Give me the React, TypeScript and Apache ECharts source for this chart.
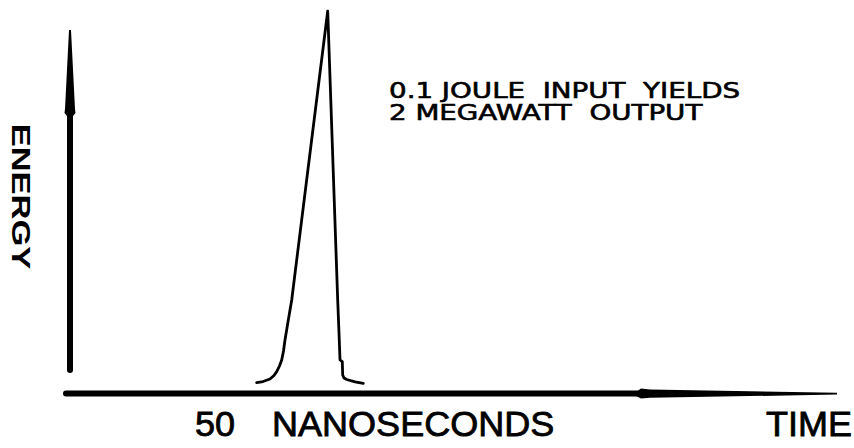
import React, { useEffect, useRef } from "react";
import * as echarts from "echarts";

// Pulse trace: time (ns, arbitrary origin) vs energy (% of peak)
const timeNs = [
  50.05, 51.68, 53.49, 54.52, 55.22, 55.94, 56.51, 56.98, 57.36, 58.22, 59.1,
  68.4,
  70.98, 71.32, 71.58, 72.17, 72.27, 72.61, 73.31, 75.45, 77.6,
];
const energy = [
  2.7, 3.01, 3.66, 4.58, 5.58, 7.07, 8.64, 10.99, 13.87, 19.11, 24.35,
  100,
  24.35, 15.71, 8.64, 8.19, 4.71, 3.93, 3.53, 2.93, 2.54,
];
const xAxisLabel = "TIME";
const scaleLabelValue = "50";
const scaleLabelUnit = "NANOSECONDS";
const yAxisLabel = "ENERGY";
const noteLines = ["0.1 JOULE  INPUT  YIELDS", "2 MEGAWATT  OUTPUT"];

export default function App() {
  const ref = useRef<HTMLDivElement>(null);
  useEffect(() => {
    if (!ref.current) return;
    const chart = echarts.init(ref.current, null, { renderer: "svg" });
    const data = timeNs.map((t, i) => [t, energy[i]]);
    const bottomText = (text: string, x: number, align: string) => ({
      type: "text",
      x,
      y: 424,
      scaleX: 1.03,
      style: {
        text,
        fontFamily: "Liberation Sans",
        fontSize: 35,
        fill: "#000",
        stroke: "#000",
        lineWidth: 0.8,
        textAlign: align,
        textVerticalAlign: "middle",
      },
    });
    chart.setOption({
      animation: false,
      backgroundColor: "#ffffff",
      grid: { left: 63, right: 17, top: 11, bottom: 55 },
      xAxis: { type: "value", min: 0, max: 200, show: false },
      yAxis: { type: "value", min: 0, max: 100, show: false },
      series: [
        {
          type: "line",
          data,
          showSymbol: false,
          smooth: false,
          lineStyle: { color: "#000", width: 2.8, join: "round", cap: "round" },
        },
      ],
      graphic: [
        // vertical axis arrow
        {
          type: "polygon",
          shape: {
            points: [
              [69, 30], [71, 30], [75, 109], [75.5, 113], [73, 116],
              [67, 116], [64.5, 113], [65, 109],
            ],
          },
          style: { fill: "#000" },
        },
        {
          type: "line",
          shape: { x1: 70, y1: 114, x2: 70, y2: 370 },
          style: { stroke: "#000", lineWidth: 6, lineCap: "round" },
        },
        // horizontal axis arrow
        {
          type: "line",
          shape: { x1: 66, y1: 393.5, x2: 642, y2: 393.5 },
          style: { stroke: "#000", lineWidth: 6, lineCap: "round" },
        },
        {
          type: "polygon",
          shape: {
            points: [
              [636, 392], [641, 388.5], [650, 389.5], [837, 392.8],
              [837, 394.6], [650, 397.8], [641, 398.5], [636, 396],
            ],
          },
          style: { fill: "#000" },
        },
        // axis labels
        {
          type: "text",
          x: 21,
          y: 196.5,
          rotation: -Math.PI / 2,
          scaleX: 1.38,
          style: {
            text: yAxisLabel,
            fontFamily: "Liberation Sans",
            fontWeight: "bold",
            fontSize: 25,
            fill: "#000",
            textAlign: "center",
            textVerticalAlign: "middle",
          },
        },
        bottomText(scaleLabelValue, 195, "left"),
        bottomText(scaleLabelUnit, 272, "left"),
        bottomText(xAxisLabel, 852, "right"),
        // annotation
        ...noteLines.map((line, i) => ({
          type: "text",
          x: 389,
          y: 90.5 + i * 22,
          scaleX: 1.32,
          style: {
            text: line,
            fontFamily: "DejaVu Sans",
            fontSize: 21,
            fill: "#000",
            stroke: "#000",
            lineWidth: 0.6,
            textAlign: "left",
            textVerticalAlign: "middle",
          },
        })),
      ],
    });
    return () => chart.dispose();
  }, []);
  return (
    <div
      ref={ref}
      style={{ position: "fixed", left: 0, top: 0, width: 854, height: 448 }}
    />
  );
}
